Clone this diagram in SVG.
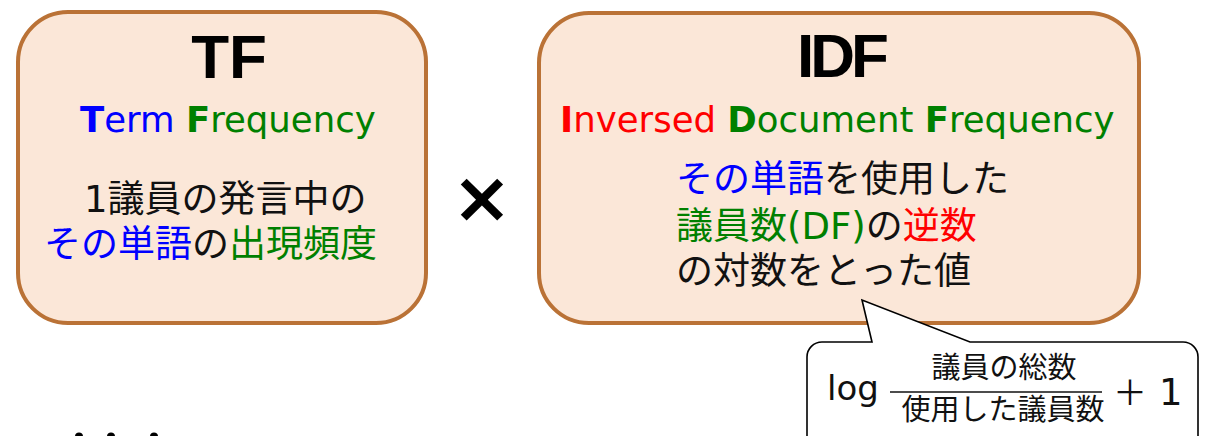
<svg xmlns="http://www.w3.org/2000/svg" width="1213" height="436" viewBox="0 0 1213 436">
<style>
.box{fill:#FBE7D8;stroke:#BA7236;stroke-width:4}
.ttl{font-family:"Liberation Sans",Arial,sans-serif;font-weight:bold;font-size:62px;fill:#000}
.en{font-family:"DejaVu Sans","Noto Sans",sans-serif;font-size:35.5px}
.jp{font-family:"DejaVu Sans","Noto Sans CJK JP",sans-serif;font-size:37px;fill:#111}
.jps{font-family:"DejaVu Sans","Noto Sans CJK JP",sans-serif;font-size:29px;fill:#111}
.b{font-weight:bold}
.blue{fill:#0000FF}.green{fill:#008000}.red{fill:#FF0000}.blk{fill:#111}
</style>
<rect width="1213" height="436" fill="#FFFFFF"/>
<g id="tf">
<rect class="box" x="18" y="12" width="408" height="311" rx="50" ry="50"/>
<text class="ttl" x="229" y="78" text-anchor="middle">TF</text>
<text class="en" x="80" y="132"><tspan class="blue b">T</tspan><tspan class="blue">erm </tspan><tspan class="green b">F</tspan><tspan class="green">requency</tspan></text>
<text class="jp" x="84" y="212">1議員の発言中の</text>
<text class="jp" x="44" y="257"><tspan class="blue">その単語</tspan><tspan class="blk">の</tspan><tspan class="green">出現頻度</tspan></text>
</g>
<g id="multiply">
<text x="482" y="222" text-anchor="middle" style="font-family:'DejaVu Sans',sans-serif;font-weight:bold;font-size:72px;fill:#000">×</text>
</g>
<g id="idf">
<rect class="box" x="539" y="13" width="600" height="310" rx="50" ry="50"/>
<text class="ttl" x="841" y="77" text-anchor="middle" letter-spacing="-4">IDF</text>
<text class="en" x="560" y="132"><tspan class="red b">I</tspan><tspan class="red">nversed </tspan><tspan class="green b">D</tspan><tspan class="green">ocument </tspan><tspan class="green b">F</tspan><tspan class="green">requency</tspan></text>
<text class="jp" x="676" y="192"><tspan class="blue">その単語</tspan><tspan class="blk">を使用した</tspan></text>
<text class="jp" x="676" y="239"><tspan class="green">議員数(DF)</tspan><tspan class="blk">の</tspan><tspan class="red">逆数</tspan></text>
<text class="jp" x="676" y="284">の対数をとった値</text>
</g>
<g id="callout">
<path d="M822,342 L872,342 L862,300 L970,342 L1183,342 A15,15 0 0 1 1198,357 L1198,450 L807,450 L807,357 A15,15 0 0 1 822,342 Z" fill="#FFFFFF" stroke="#000" stroke-width="1.6" stroke-linejoin="miter"/>
<text x="827" y="400" style="font-family:'DejaVu Sans',sans-serif;font-size:34px;fill:#111">log</text>
<text class="jps" x="1004" y="378" text-anchor="middle">議員の総数</text>
<line x1="890" y1="392" x2="1102" y2="392" stroke="#111" stroke-width="1.6"/>
<text class="jps" x="1003" y="420" text-anchor="middle">使用した議員数</text>
<text x="1130" y="405" text-anchor="middle" style="font-family:'Noto Sans CJK JP',sans-serif;font-size:34px;fill:#111">＋</text>
<text x="1159" y="405" style="font-family:'DejaVu Sans',sans-serif;font-size:37px;fill:#111">1</text>
</g>
<g id="bottom-dots" fill="#000">
<circle cx="79" cy="436.5" r="4"/>
<circle cx="111" cy="436.5" r="4"/>
<circle cx="154" cy="436.5" r="4"/>
</g>
</svg>
